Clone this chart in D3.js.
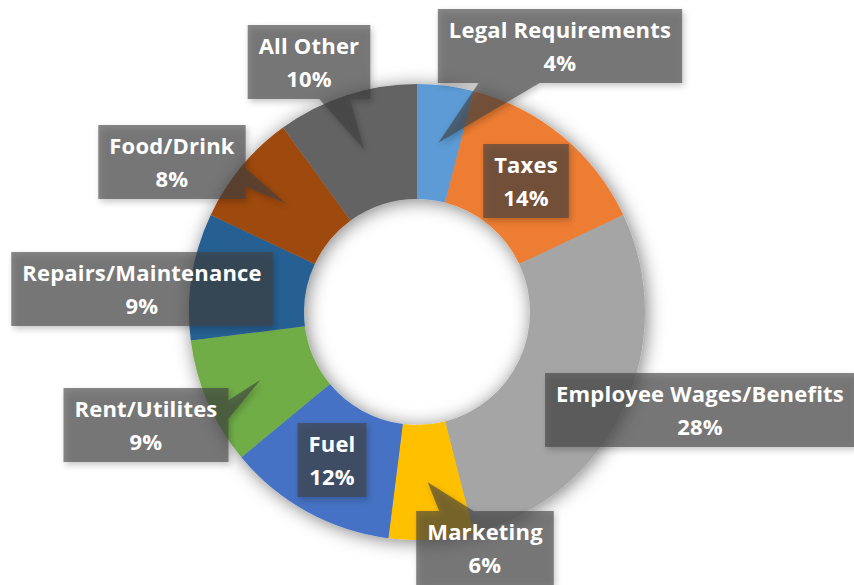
<!DOCTYPE html>
<html><head><meta charset="utf-8">
<script src="https://cdn.jsdelivr.net/npm/d3@7"></script>
<style>body{margin:0;background:#fff;} svg{display:block;}</style>
</head><body>
<script>
const categories = ["Legal Requirements","Taxes","Employee Wages/Benefits","Marketing","Fuel","Rent/Utilites","Repairs/Maintenance","Food/Drink","All Other"];
const values = [4,14,28,6,12,9,9,8,10];
const percentLabels = ["4%","14%","28%","6%","12%","9%","9%","8%","10%"];
const colors = ["#5B9BD5","#ED7D31","#A5A5A5","#FFC000","#4472C4","#70AD47","#255E91","#9E480E","#636363"];
// callout box centres (layout only)
const labelCenters = [[560,46],[526,181],[700,410],[485,548],[332,460],[146,425],[142,289],[172,162],[309,62]];

const W=854, H=585, cx=417, cy=312, R=228, r0=113;
const svg = d3.select("body").append("svg").attr("width",W).attr("height",H);
const defs = svg.append("defs");
const f1 = defs.append("filter").attr("id","ringShadow").attr("x","-30%").attr("y","-30%").attr("width","160%").attr("height","160%");
f1.append("feDropShadow").attr("dx",2).attr("dy",2).attr("stdDeviation",9).attr("flood-color","#000").attr("flood-opacity",0.5);
const f2 = defs.append("filter").attr("id","boxShadow").attr("x","-20%").attr("y","-30%").attr("width","140%").attr("height","160%");
f2.append("feDropShadow").attr("dx",2).attr("dy",3).attr("stdDeviation",3).attr("flood-color","#000").attr("flood-opacity",0.35);

const data = categories.map((c,i)=>({cat:c, value:values[i], pct:percentLabels[i], color:colors[i], center:labelCenters[i]}));
const pie = d3.pie().value(d=>d.value).sort(null);
const arc = d3.arc().innerRadius(r0).outerRadius(R);
const arcs = pie(data);

const g = svg.append("g").attr("transform",`translate(${cx},${cy})`).attr("filter","url(#ringShadow)");
g.selectAll("path").data(arcs).join("path").attr("d",arc).attr("fill",d=>d.data.color);

function wedgePath(x0,y0,w,h,tx,ty){
  const x3=x0+w, y3=y0+h;
  if (tx>=x0 && tx<=x3 && ty>=y0 && ty<=y3) {
    return `M${x0},${y0}L${x3},${y0}L${x3},${y3}L${x0},${y3}Z`;
  }
  const hc=x0+w/2, vc=y0+h/2, dx=tx-hc, dy=ty-vc;
  const dq=dx*h/w, vertical=Math.abs(dy)>Math.abs(dq);
  const x1=x0+w*(dx>0?7:2)/12, x2=x0+w*(dx>0?10:5)/12;
  const y1=y0+h*(dy>0?7:2)/12, y2=y0+h*(dy>0?10:5)/12;
  let p=`M${x0},${y0}`;
  if (vertical && dy<0) p+=`L${x1},${y0}L${tx},${ty}L${x2},${y0}`;
  p+=`L${x3},${y0}`;
  if (!vertical && dx>0) p+=`L${x3},${y1}L${tx},${ty}L${x3},${y2}`;
  p+=`L${x3},${y3}`;
  if (vertical && dy>0) p+=`L${x2},${y3}L${tx},${ty}L${x1},${y3}`;
  p+=`L${x0},${y3}`;
  if (!vertical && dx<0) p+=`L${x0},${y2}L${tx},${ty}L${x0},${y1}`;
  return p+"Z";
}

const lg = svg.append("g");
arcs.forEach(a=>{
  const d=a.data, [bx,by]=d.center;
  const grp = lg.append("g");
  const box = grp.append("path");
  const t1 = grp.append("text").attr("x",bx).attr("y",by-8).text(d.cat);
  const t2 = grp.append("text").attr("x",bx).attr("y",by+25).text(d.pct);
  grp.selectAll("text").attr("text-anchor","middle").attr("fill","#fff")
     .attr("font-family","'Open Sans', sans-serif").attr("font-weight","bold")
     .attr("font-size",22).attr("letter-spacing",0.2);
  const tw = Math.max(t1.node().getComputedTextLength(), t2.node().getComputedTextLength());
  const w = tw+22, h=74;
  const c = arc.centroid(a);
  box.attr("d", wedgePath(bx-w/2, by-h/2, w, h, cx+c[0], cy+c[1]))
     .attr("fill","rgba(64,64,64,0.62)").attr("filter","url(#boxShadow)");
});
</script>
</body></html>
